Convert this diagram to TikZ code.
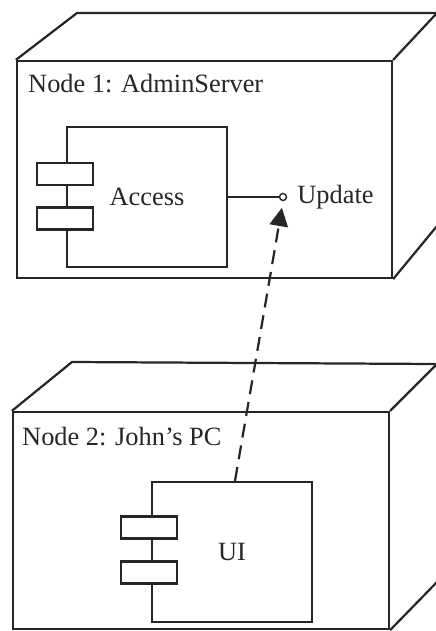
\documentclass[tikz,border=0pt]{standalone}
\usepackage{fontspec}
\setmainfont{Liberation Serif}
\usetikzlibrary{arrows.meta, positioning}
\tikzstyle{devnode}  = [draw, line width=1.9pt, inner sep=0pt]
\tikzstyle{depth}    = [line width=1.9pt, line join=round]
\tikzstyle{comp}     = [draw, line width=1.9pt, minimum width=4.8cm, minimum height=4.2cm, inner sep=0pt, fill=white]
\tikzstyle{tab}      = [draw, line width=1.9pt, minimum width=1.68cm, minimum height=0.66cm, inner sep=0pt, fill=white]
\tikzstyle{iface}    = [draw, circle, line width=1.2pt, minimum size=0.21cm, inner sep=0pt, fill=white]
\tikzstyle{lbl}      = [inner sep=0pt, font=\fontsize{22.5}{27}\selectfont]
\tikzstyle{dep}      = [line width=1.9pt, dash pattern=on 0.42cm off 0.24cm, -{Triangle[length=0.55cm,width=0.55cm]}, shorten >=0.2cm]

\begin{document}
\begin{tikzpicture}[x=0.03cm, y=-0.03cm, color=black!85]
\useasboundingbox (0,0) rectangle (435,631);

% node 1
\node[devnode, minimum width=11.25cm, minimum height=6.51cm] (srv) at (204.5,169.5) {};
\coordinate (srvTL) at (77,13);
\coordinate (srvTR) at (437,13);
\coordinate (srvBR) at (437,226);
\draw[depth] (srv.north west) -- (srvTL) -- (srvTR) -- (srv.north east);
\draw[depth] (srv.south east) -- (srvBR);
\node[lbl, anchor=west] (srvname) at (28,84) {Node 1: AdminServer};

\node[comp, lbl] (access) at (147,197) {Access};
\node[tab] (acctab1) at (65,174) {};
\node[tab] (acctab2) at (65,218.5) {};

\node[iface] (upd) at (283,197) {};
\node[lbl, right=0.3cm of upd] (updname) {Update};
\draw[line width=1.2pt] (access.east) -- (upd);

% node 2
\node[devnode, minimum width=11.28cm, minimum height=6.51cm] (pc) at (201,520.5) {};
\coordinate (pcTL) at (72,362);
\coordinate (pcTR) at (437,364);
\coordinate (pcBR) at (437,582);
\draw[depth] (pc.north west) -- (pcTL) -- (pcTR) -- (pc.north east);
\draw[depth] (pc.south east) -- (pcBR);
\node[lbl, anchor=west] (pcname) at (22,437) {Node 2: John's PC};

\node[comp, lbl] (ui) at (232,552) {UI};
\node[tab] (uitab1) at (149,527.5) {};
\node[tab] (uitab2) at (149,572.5) {};

\draw[dep] ([xshift=0.09cm]ui.north) -- (upd.south);

\end{tikzpicture}
\end{document}
